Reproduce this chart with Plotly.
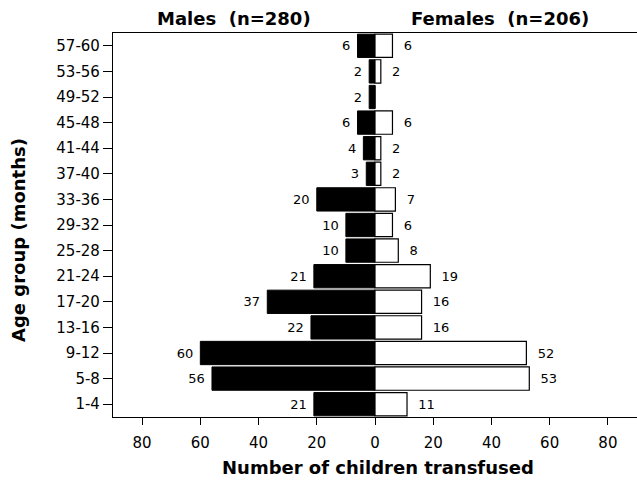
import plotly.graph_objects as go

age_groups = ["1-4", "5-8", "9-12", "13-16", "17-20", "21-24", "25-28", "29-32",
              "33-36", "37-40", "41-44", "45-48", "49-52", "53-56", "57-60"]
males = [21, 56, 60, 22, 37, 21, 10, 10, 20, 3, 4, 6, 2, 2, 6]
females = [11, 53, 52, 16, 16, 19, 8, 6, 7, 2, 2, 6, 0, 2, 6]
tick_vals = [-80, -60, -40, -20, 0, 20, 40, 60, 80]
tick_text = ["80", "60", "40", "20", "0", "20", "40", "60", "80"]

FONT = "DejaVu Sans, sans-serif"

fig = go.Figure()
fig.add_trace(go.Bar(
    y=age_groups, x=[-v for v in males], orientation="h",
    marker=dict(color="black", line=dict(color="black", width=1)),
    text=[f"{v} " for v in males], textposition="outside",
    textfont=dict(family=FONT, size=13, color="black"),
    cliponaxis=False, name="Males", hoverinfo="skip"))
fig.add_trace(go.Bar(
    y=age_groups, x=females, orientation="h",
    marker=dict(color="white", line=dict(color="black", width=1.2)),
    text=[f"  {v}" if v > 0 else "" for v in females], textposition="outside",
    textfont=dict(family=FONT, size=13, color="black"),
    cliponaxis=False, name="Females", hoverinfo="skip"))

fig.update_layout(
    width=637, height=481,
    margin=dict(l=113, r=0, t=33, b=64),
    paper_bgcolor="white", plot_bgcolor="white",
    barmode="overlay", bargap=0.09, showlegend=False,
    font=dict(family=FONT, size=15, color="black"),
    xaxis=dict(range=[-90, 90], tickvals=tick_vals, ticktext=tick_text,
               showgrid=False, zeroline=False, showline=True, linecolor="black",
               linewidth=1.2, mirror=True, ticks="outside", ticklen=7,
               ticklabelstandoff=5,
               tickcolor="black", tickfont=dict(size=15), automargin=False),
    yaxis=dict(range=[-0.5, 14.5], showgrid=False, zeroline=False, showline=True,
               linecolor="black", linewidth=1.2, ticks="outside", ticklen=9,
               tickcolor="black", tickfont=dict(size=15), automargin=False),
    annotations=[
        dict(text="<b>Males  (n=280)</b>", x=-48.3, y=1.0, xref="x", yref="paper",
             yanchor="bottom", yshift=2, showarrow=False, font=dict(size=18)),
        dict(text="<b>Females  (n=206)</b>", x=43, y=1.0, xref="x", yref="paper",
             yanchor="bottom", yshift=2, showarrow=False, font=dict(size=18)),
        dict(text="<b>Number of children transfused</b>", x=1, y=0, xref="x",
             yref="paper", yanchor="middle", yshift=-50, showarrow=False,
             font=dict(size=18)),
        dict(text="<b>Age group (months)</b>", x=0, y=0.461, xref="paper",
             yref="paper", xanchor="center", yanchor="middle", xshift=-94,
             textangle=-90, showarrow=False, font=dict(size=18)),
    ],
)

fig.write_html("out.html", config={"displayModeBar": False},
               post_script="document.body.style.margin='0px';")
